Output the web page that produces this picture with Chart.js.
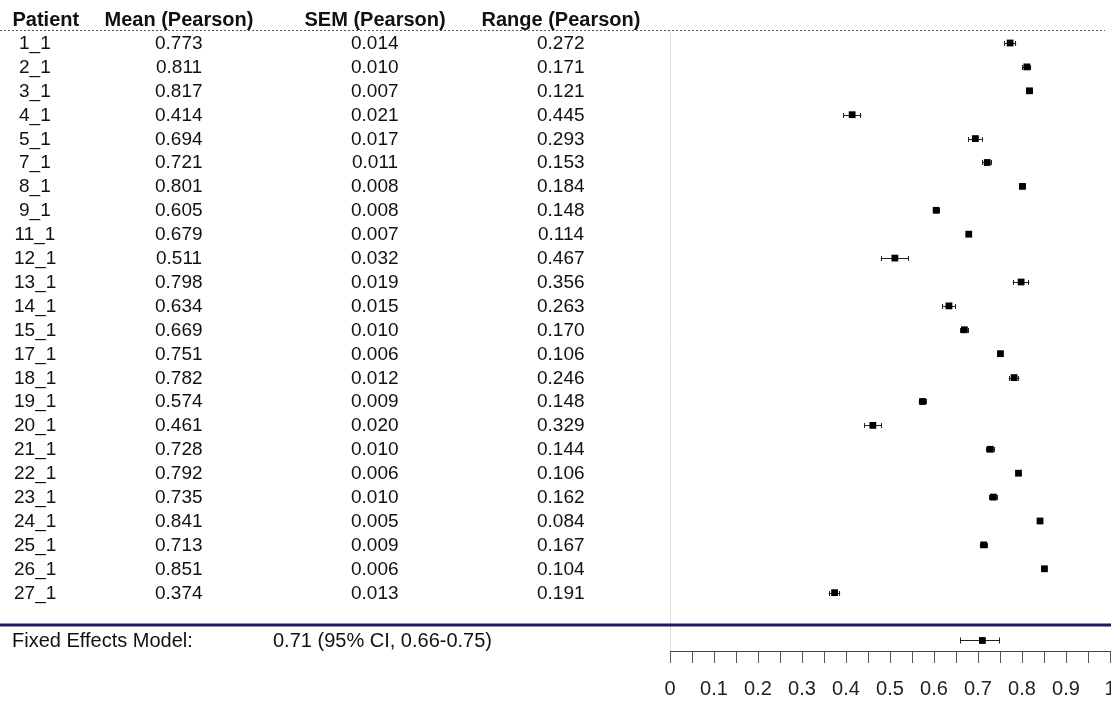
<!DOCTYPE html>
<html>
<head>
<meta charset="utf-8">
<script src="https://cdn.jsdelivr.net/npm/chart.js@4.4.1/dist/chart.umd.min.js"></script>
<style>
  body { margin: 0; background: #fff; }
  #wrap { position: relative; width: 1111px; height: 702px; overflow: hidden; }
  #forest { position: absolute; left: 0; top: 0; }
  .cell { position: absolute; font-family: "Liberation Sans", Arial, sans-serif; font-size: 19px;
          line-height: 24px; color: #111; white-space: nowrap; }
  .head { font-weight: bold; font-size: 20px; }
  .foot { font-size: 20px; }
</style>
</head>
<body>
<div id="wrap">
  <canvas id="forest" width="1111" height="702"></canvas>
  <div id="table"></div>
</div>
<script>
var headers = ["Patient", "Mean (Pearson)", "SEM (Pearson)", "Range (Pearson)"];
var patients = ["1_1", "2_1", "3_1", "4_1", "5_1", "7_1", "8_1", "9_1", "11_1", "12_1", "13_1", "14_1",
  "15_1", "17_1", "18_1", "19_1", "20_1", "21_1", "22_1", "23_1", "24_1", "25_1", "26_1", "27_1"];
var means = [0.773, 0.811, 0.817, 0.414, 0.694, 0.721, 0.801, 0.605, 0.679, 0.511, 0.798, 0.634,
  0.669, 0.751, 0.782, 0.574, 0.461, 0.728, 0.792, 0.735, 0.841, 0.713, 0.851, 0.374];
var sems = [0.014, 0.010, 0.007, 0.021, 0.017, 0.011, 0.008, 0.008, 0.007, 0.032, 0.019, 0.015,
  0.010, 0.006, 0.012, 0.009, 0.020, 0.010, 0.006, 0.010, 0.005, 0.009, 0.006, 0.013];
var ranges = [0.272, 0.171, 0.121, 0.445, 0.293, 0.153, 0.184, 0.148, 0.114, 0.467, 0.356, 0.263,
  0.170, 0.106, 0.246, 0.148, 0.329, 0.144, 0.106, 0.162, 0.084, 0.167, 0.104, 0.191];

var fixedLabel = "Fixed Effects Model:";
var fixedMean = 0.71, fixedLo = 0.66, fixedHi = 0.75;
var fixedRow = 25;

// column centres of the table (px)
var colCenters = [35, 179, 375, 561];
var headCenters = [46, 179, 375, 561];

var table = document.getElementById("table");
function addCell(text, cls, left, center) {
  var d = document.createElement("div");
  d.className = "cell " + cls;
  d.textContent = text;
  table.appendChild(d);
  return { el: d, left: left, center: center };
}

var headCells = headers.map((h, i) => addCell(h, "head", null, headCenters[i]));
var rowCells = patients.map((p, i) => [
  addCell(p, "", null, colCenters[0]),
  addCell(means[i].toFixed(3), "", null, colCenters[1]),
  addCell(sems[i].toFixed(3), "", null, colCenters[2]),
  addCell(ranges[i].toFixed(3), "", null, colCenters[3])
]);
var footCells = [
  addCell(fixedLabel, "foot", 12, null),
  addCell(fixedMean.toFixed(2) + " (95% CI, " + fixedLo.toFixed(2) + "-" + fixedHi.toFixed(2) + ")", "foot", 273, null)
];

function place(c, y) {
  c.el.style.top = (y - 12) + "px";
  if (c.left !== null) {
    c.el.style.left = c.left + "px";
  } else {
    c.el.style.left = (c.center - c.el.offsetWidth / 2) + "px";
  }
}

var font = "'Liberation Sans', Arial, sans-serif";

const forestPlugin = {
  id: "forest",
  beforeDatasetsDraw(chart) {
    const ctx = chart.ctx, xs = chart.scales.x, ys = chart.scales.y;
    ctx.save();
    // dotted header rule
    ctx.strokeStyle = "#555";
    ctx.lineWidth = 1;
    ctx.setLineDash([2, 2]);
    ctx.beginPath();
    ctx.moveTo(0, chart.chartArea.top + 0.5);
    ctx.lineTo(1105, chart.chartArea.top + 0.5);
    ctx.stroke();
    ctx.setLineDash([]);
    // navy separator
    const ny = Math.round(ys.getPixelForValue(24.35));
    ctx.strokeStyle = "#1c1c5e";
    ctx.lineWidth = 3;
    ctx.beginPath();
    ctx.moveTo(0, ny);
    ctx.lineTo(chart.width, ny);
    ctx.stroke();
    // error bars
    ctx.strokeStyle = "#222";
    ctx.lineWidth = 1;
    function bar(lo, hi, row, cap) {
      const y = Math.round(ys.getPixelForValue(row)) + 0.5;
      const x1 = xs.getPixelForValue(lo), x2 = xs.getPixelForValue(hi);
      ctx.beginPath();
      ctx.moveTo(x1, y); ctx.lineTo(x2, y);
      ctx.moveTo(Math.round(x1) + 0.5, y - cap); ctx.lineTo(Math.round(x1) + 0.5, y + cap);
      ctx.moveTo(Math.round(x2) - 0.5, y - cap); ctx.lineTo(Math.round(x2) - 0.5, y + cap);
      ctx.stroke();
    }
    means.forEach((m, i) => bar(m - sems[i], m + sems[i], i, 2.5));
    bar(fixedLo, fixedHi, fixedRow, 3);
    ctx.restore();
  },
  afterDraw(chart) {
    const ys = chart.scales.y;
    headCells.forEach(c => place(c, 19));
    rowCells.forEach((r, i) => r.forEach(c => place(c, ys.getPixelForValue(i))));
    footCells.forEach(c => place(c, ys.getPixelForValue(fixedRow)));
  }
};

new Chart(document.getElementById("forest"), {
  type: "scatter",
  data: {
    datasets: [{
      data: means.map((m, i) => ({ x: m, y: i })),
      pointStyle: "rect",
      radius: 4.8,
      backgroundColor: "#000",
      borderWidth: 0
    }, {
      data: [{ x: fixedMean, y: fixedRow }],
      pointStyle: "rect",
      radius: 4.8,
      backgroundColor: "#000",
      borderWidth: 0
    }]
  },
  options: {
    responsive: false,
    animation: false,
    layout: {
      autoPadding: false,
      padding: { left: 670, right: 1, top: 30, bottom: 0 }
    },
    plugins: {
      legend: { display: false },
      tooltip: { enabled: false }
    },
    scales: {
      x: {
        type: "linear",
        min: 0,
        max: 1,
        position: "bottom",
        afterFit: (scale) => {
          scale.height = 51;
          scale.paddingLeft = 0;
          scale.paddingRight = 0;
        },
        ticks: {
          stepSize: 0.05,
          autoSkip: false,
          maxRotation: 0,
          padding: 14,
          color: "#222",
          font: { family: font, size: 20 },
          callback: (v) => Math.round(v * 100) % 10 === 0 ? String(+v.toFixed(1)) : ""
        },
        grid: {
          drawOnChartArea: true,
          color: (c) => c.tick && c.tick.value === 0 ? "#dddddd" : "rgba(0,0,0,0)",
          tickColor: "#555",
          tickLength: 12,
          lineWidth: 1
        },
        border: { display: true, color: "#444", width: 1 }
      },
      y: {
        type: "linear",
        min: -0.544,
        max: 25.44,
        reverse: true,
        display: false
      }
    }
  },
  plugins: [forestPlugin]
});
</script>
</body>
</html>
